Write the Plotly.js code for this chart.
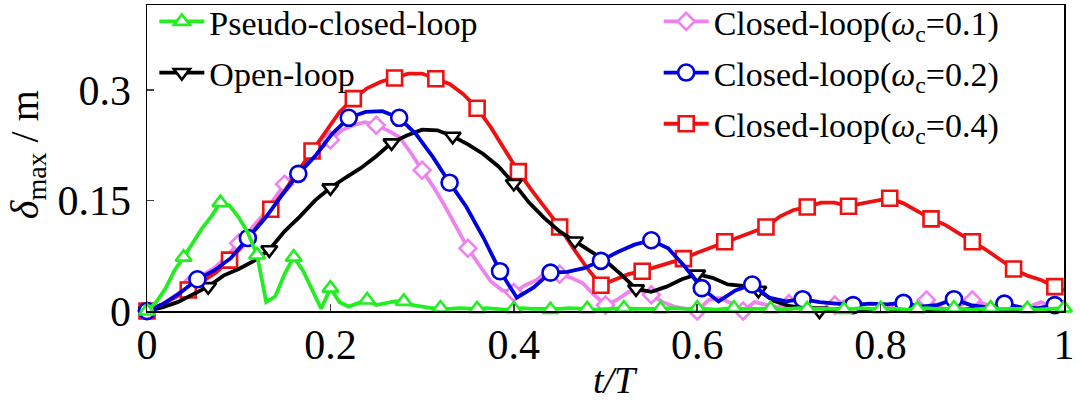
<!DOCTYPE html>
<html><head><meta charset="utf-8">
<script src="https://cdn.plot.ly/plotly-3.0.1.min.js"></script>
<style>html,body{margin:0;padding:0;background:#fff}#chart{width:1080px;height:405px}</style>
</head><body><div id="chart"></div>
<script>
// ---- data (t/T sampled on an even grid per series; markers every N samples) ----
const pseudoStep = 0.01, pseudoEvery = 4;
const pseudoClosedLoop = [0,0.012,0.03,0.055,0.073,0.092,0.112,0.128,0.147,0.143,
  0.127,0.106,0.076,0.012,0.02,0.05,0.073,0.055,0.03,0.003,
  0.031,0.012,0.006,0.011,0.015,0.008,0.01,0.013,0.013,0.008,
  0.006,0.004,0.004,0.003,0.004,0.003,0.003,0.004,0.003,0.002,
  0.003,0.004,0.003,0.003,0.002,0.003,0.004,0.004,0.003,0.002,
  0.003,0.003,0.004,0.003,0.003,0.002,0.003,0.004,0.003,0.003,
  0.004,0.003,0.002,0.003,0.004,0.003,0.003,0.004,0.003,0.002,
  0.003,0.004,0.003,0.003,0.004,0.003,0.002,0.003,0.004,0.003,
  0.003,0.004,0.003,0.002,0.003,0.004,0.003,0.003,0.004,0.003,
  0.002,0.003,0.004,0.003,0.003,0.004,0.003,0.002,0.003,0.004,0.004];

const openStep = 1/60, openEvery = 4;
const openLoop = [0,0.005,0.012,0.022,0.033,0.048,0.057,0.068,0.083,0.108,
  0.128,0.15,0.167,0.181,0.194,0.21,0.228,0.238,0.246,0.245,
  0.237,0.226,0.213,0.196,0.173,0.147,0.126,0.108,0.095,0.082,
  0.068,0.05,0.03,0.026,0.033,0.043,0.05,0.045,0.036,0.034,
  0.028,0.014,0.007,0.004,0,0.003,0.002,0.003,-0.002,0.002,
  0.003,0.002,-0.002,0.002,0.003,0.002,-0.002,0.002,0.003,0.002,-0.001];

const wc01Step = 0.0125, wc01Every = 4;
const closedWc01 = [0,0.006,0.016,0.027,0.04,0.05,0.06,0.075,0.092,0.11,
  0.128,0.15,0.172,0.19,0.203,0.218,0.232,0.245,0.252,0.256,
  0.252,0.245,0.236,0.215,0.191,0.168,0.142,0.114,0.085,0.062,
  0.04,0.028,0.025,0.035,0.042,0.055,0.05,0.045,0.038,0.022,
  0.008,0.015,0.026,0.028,0.022,0.012,0.006,0.003,0,0.015,
  0.018,0.01,0,0.012,0.008,0.005,0.01,0.014,0.004,-0.003,
  0.008,0.014,0.003,-0.003,-0.003,0.008,0.014,0.006,0.015,0.006,
  -0.002,0.008,0.015,0.01,0.004,0,-0.003,0.006,0.012,0.004,-0.003];

const wc02Step = 0.055/3, wc02Every = 3;
const closedWc02 = [0,0.01,0.025,0.043,0.055,0.072,0.099,0.125,0.156,0.186,
  0.21,0.24,0.262,0.27,0.271,0.262,0.24,0.209,0.174,0.141,
  0.1,0.054,0.018,0.032,0.052,0.053,0.058,0.068,0.08,0.09,
  0.096,0.085,0.06,0.031,0.013,0.028,0.036,0.018,0.013,0.016,
  0.012,0.01,0.008,0.01,0.009,0.011,0.006,0.008,0.016,0.008,
  0.005,0.01,0.005,0.004,0.008,0.005];

const wc04Step = 0.015, wc04Every = 3;
const closedWc04 = [0,0.008,0.018,0.0285,0.04,0.052,0.069,0.09,0.114,0.138,
  0.163,0.19,0.217,0.243,0.27,0.288,0.302,0.311,0.316,0.322,
  0.322,0.315,0.308,0.294,0.275,0.249,0.22,0.189,0.163,0.138,
  0.114,0.085,0.058,0.035,0.043,0.05,0.054,0.06,0.066,0.071,
  0.079,0.086,0.094,0.101,0.107,0.114,0.128,0.137,0.141,0.147,
  0.147,0.142,0.146,0.149,0.153,0.146,0.135,0.125,0.117,0.105,
  0.094,0.083,0.07,0.057,0.048,0.042,0.033,0.028];

const xTickVals = [0,0.2,0.4,0.6,0.8,1];
const xTickText = ['0','0.2','0.4','0.6','0.8','1'];
const yTickVals = [0,0.15,0.3];
const yTickText = ['0','0.15','0.3'];

const seriesNames = ['Pseudo-closed-loop','Open-loop',
  'Closed-loop(<i>ω</i><sub>c</sub>=0.1)','Closed-loop(<i>ω</i><sub>c</sub>=0.2)','Closed-loop(<i>ω</i><sub>c</sub>=0.4)'];
const xTitle = '<i>t/T</i>';
const yTitle = '<i>δ</i><sub>max</sub> / m';

// ---- build ----
function times(vals, step){ return vals.map((_,i)=>Math.min(1, i*step)); }
function every(arr, n){ return arr.filter((_,i)=>i % n === 0); }

const FONT = 'Liberation Serif, Times New Roman, serif';
const series = [
  {y:closedWc01, step:wc01Step, n:wc01Every, name:seriesNames[2], color:'#ee82ee', symbol:'diamond', size:13, legend:'legend2'},
  {y:closedWc04, step:wc04Step, n:wc04Every, name:seriesNames[4], color:'#ee1111', symbol:'square', size:15, legend:'legend2'},
  {y:openLoop, step:openStep, n:openEvery, name:seriesNames[1], color:'#000000', symbol:'triangle-down', size:14, legend:'legend'},
  {y:closedWc02, step:wc02Step, n:wc02Every, name:seriesNames[3], color:'#0000dd', symbol:'circle', size:16, legend:'legend2'},
  {y:pseudoClosedLoop, step:pseudoStep, n:pseudoEvery, name:seriesNames[0], color:'#22ee22', symbol:'triangle-up', size:14, legend:'legend'}
];

const traces = [];
series.forEach(s => {
  const x = times(s.y, s.step);
  traces.push({x:x, y:s.y, mode:'lines', type:'scatter', showlegend:false, cliponaxis:false,
    line:{color:s.color, width:3.8}, hoverinfo:'skip'});
  traces.push({x:every(x,s.n), y:every(s.y,s.n), mode:'markers', type:'scatter', showlegend:false, cliponaxis:false,
    marker:{symbol:s.symbol, size:s.size, color:'#ffffff', line:{color:s.color, width:2.6}}});
});
const legendOrder = [series[4], series[2], series[0], series[3], series[1]];
legendOrder.forEach((s,k) => {
  traces.push({x:[null], y:[null], mode:'lines+markers', type:'scatter', name:s.name, legend:s.legend,
    legendgroup:'g'+k, line:{color:s.color, width:3.8},
    marker:{symbol:s.symbol, size:s.size, color:'#ffffff', line:{color:s.color, width:2.6}}});
});

const layout = {
  width:1080, height:405,
  margin:{l:147, r:16, t:5, b:94, autoexpand:false},
  paper_bgcolor:'#fff', plot_bgcolor:'#fff',
  font:{family:FONT, color:'#000'},
  showlegend:true,
  xaxis:{range:[0,1], tickvals:xTickVals, ticktext:xTickText, ticks:'inside', ticklen:7, tickwidth:1.5,
    showline:true, linecolor:'#000', linewidth:1.5, mirror:true, showgrid:false, zeroline:false,
    tickfont:{family:FONT, size:42}, ticklabelstandoff:-4},
  yaxis:{range:[0,0.415], tickvals:yTickVals, ticktext:yTickText, ticks:'inside', ticklen:7, tickwidth:1.5,
    showline:true, linecolor:'#000', linewidth:1.5, mirror:true, showgrid:false, zeroline:false,
    tickfont:{family:FONT, size:42}, ticklabelstandoff:6},
  annotations:[
    {text:yTitle, textangle:-90, xref:'paper', yref:'paper',
      x:-0.131, y:0.512, xanchor:'center', yanchor:'middle', showarrow:false, font:{family:FONT, size:40}},
    {text:xTitle, xref:'paper', yref:'paper',
      x:0.511, y:-0.2255, xanchor:'center', yanchor:'middle', showarrow:false, font:{family:FONT, size:38}}
  ],
  legend:{x:0.008, y:1.04, xanchor:'left', yanchor:'top', bgcolor:'rgba(0,0,0,0)', borderwidth:0,
    font:{family:FONT, size:34}, traceorder:'grouped', tracegroupgap:4, itemwidth:45},
  legend2:{x:0.558, y:1.04, xanchor:'left', yanchor:'top', bgcolor:'rgba(0,0,0,0)', borderwidth:0,
    font:{family:FONT, size:34}, traceorder:'grouped', tracegroupgap:4, itemwidth:45}
};

Plotly.newPlot('chart', traces, layout, {displayModeBar:false, staticPlot:true});
</script>
</body></html>
